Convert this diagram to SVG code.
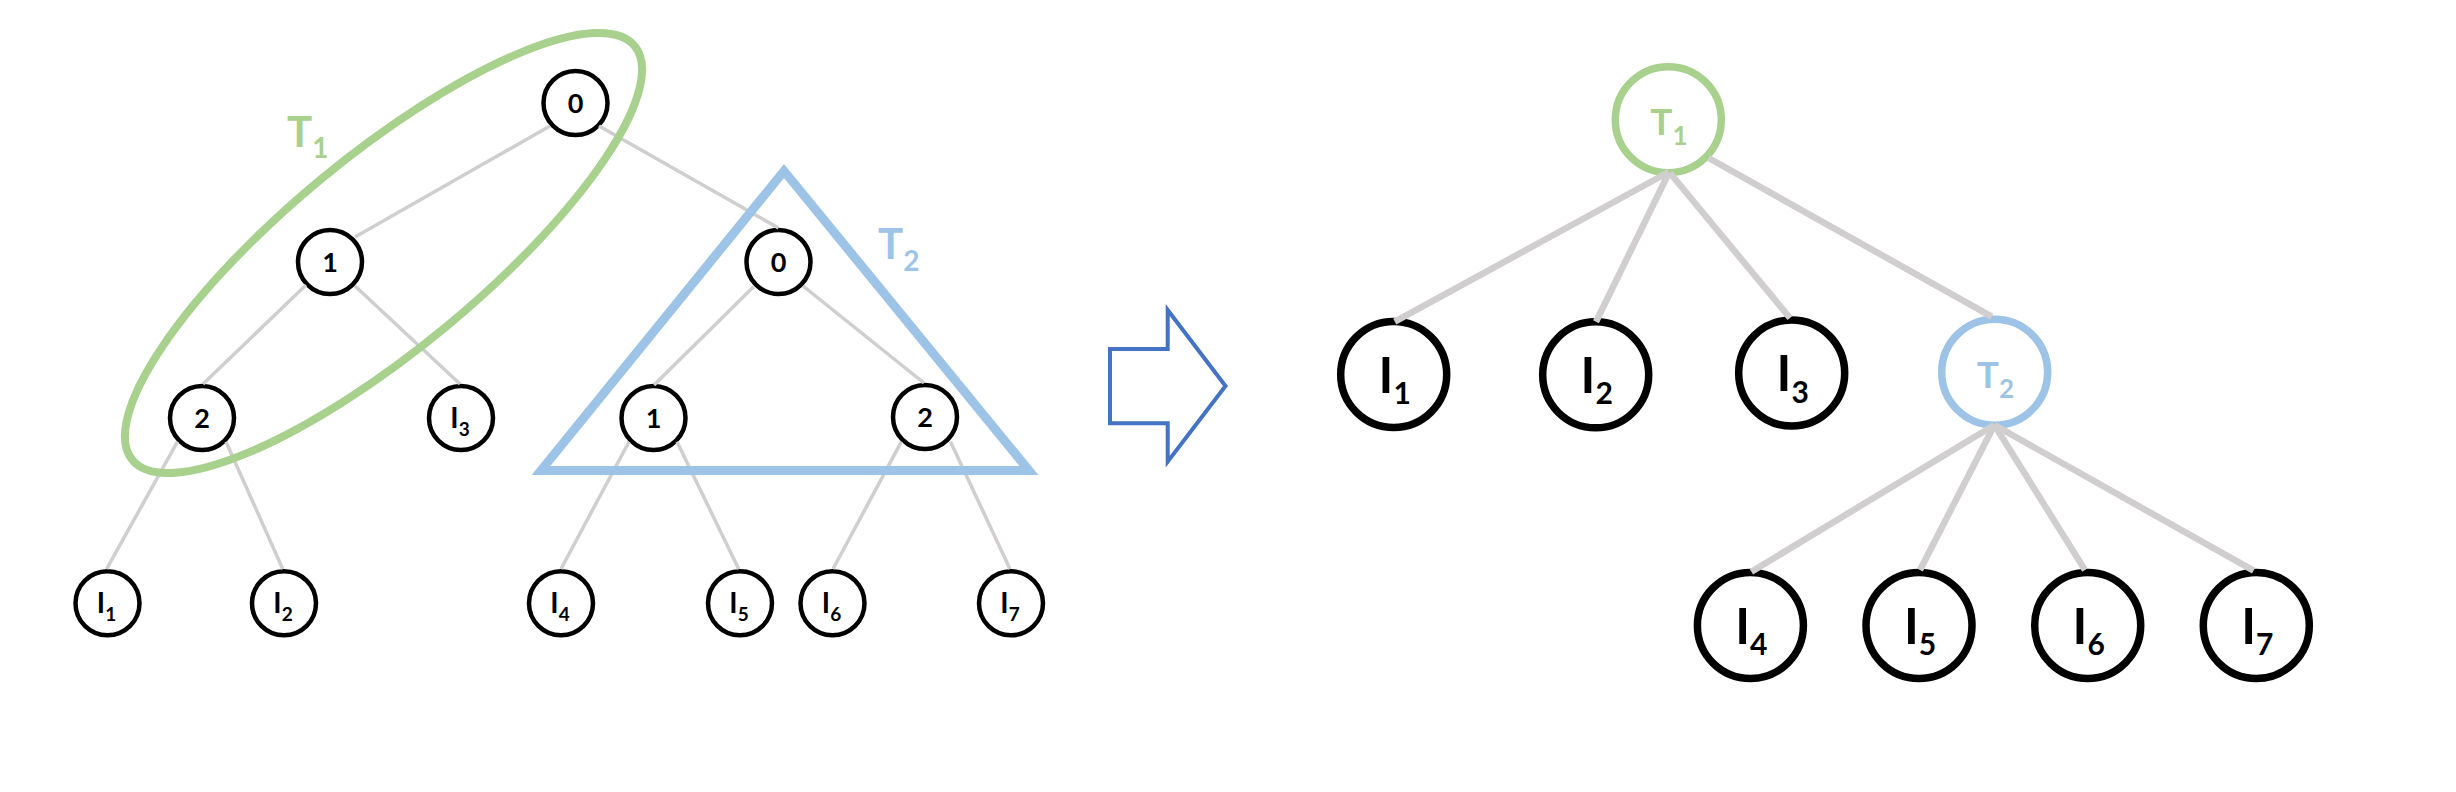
<svg xmlns="http://www.w3.org/2000/svg" width="2456" height="792" viewBox="0 0 2456 792">
<style>
.sn{fill:#fff;stroke:#000;stroke-width:4.5}
.bn{fill:#fff;stroke:#000;stroke-width:7.5}
.gn{fill:#fff;stroke:#A9D18E;stroke-width:7.5}
.un{fill:#fff;stroke:#9DC3E6;stroke-width:7.5}
.t{font-family:Lato,"Open Sans","Liberation Sans",sans-serif;font-weight:bold}
.d{font-size:27px;text-anchor:middle;fill:#000}
.li{font-size:28px;text-anchor:middle;fill:#000}
.bi{font-size:50px;text-anchor:middle;fill:#000}
.e1{stroke:#D0CECE;stroke-width:3.5;fill:none}
.e2{stroke:#D0CECE;stroke-width:6.5;fill:none}
</style>
<rect width="2456" height="792" fill="#fff"/>

<g id="left-nodes">
  <g id="L-n0"><circle class="sn" cx="575.5" cy="103" r="32"/><text class="t d" x="575.5" y="113">0</text></g>
  <g id="L-n1"><circle class="sn" cx="330" cy="262" r="32"/><text class="t d" x="330" y="272">1</text></g>
  <g id="L-n2"><circle class="sn" cx="202" cy="418" r="32"/><text class="t d" x="202" y="428">2</text></g>
  <g id="L-I3"><circle class="sn" cx="461" cy="418" r="32"/><text class="t li" x="460" y="428">I<tspan font-size="19" dy="7.7">3</tspan></text></g>
  <g id="L-T2n0"><circle class="sn" cx="778.5" cy="262" r="32"/><text class="t d" x="778.5" y="272">0</text></g>
  <g id="L-T2n1"><circle class="sn" cx="653.5" cy="418" r="32"/><text class="t d" x="653.5" y="428">1</text></g>
  <g id="L-T2n2"><circle class="sn" cx="925" cy="417" r="32"/><text class="t d" x="925" y="427">2</text></g>
  <g id="L-I1"><circle class="sn" cx="107.5" cy="603.3" r="32"/><text class="t li" x="106.5" y="613.3">I<tspan font-size="19" dy="7.7">1</tspan></text></g>
  <g id="L-I2"><circle class="sn" cx="284" cy="603.3" r="32"/><text class="t li" x="283" y="613.3">I<tspan font-size="19" dy="7.7">2</tspan></text></g>
  <g id="L-I4"><circle class="sn" cx="561" cy="603.3" r="32"/><text class="t li" x="560" y="613.3">I<tspan font-size="19" dy="7.7">4</tspan></text></g>
  <g id="L-I5"><circle class="sn" cx="740" cy="603.3" r="32"/><text class="t li" x="739" y="613.3">I<tspan font-size="19" dy="7.7">5</tspan></text></g>
  <g id="L-I6"><circle class="sn" cx="832.5" cy="603.3" r="32"/><text class="t li" x="831.5" y="613.3">I<tspan font-size="19" dy="7.7">6</tspan></text></g>
  <g id="L-I7"><circle class="sn" cx="1011" cy="603.3" r="32"/><text class="t li" x="1010" y="613.3">I<tspan font-size="19" dy="7.7">7</tspan></text></g>
</g>

<g id="right-nodes">
  <g id="R-T1"><circle class="gn" cx="1668.3" cy="119.7" r="53"/><text class="t" x="1669" y="135" font-size="37" text-anchor="middle" fill="#A9D18E">T<tspan font-size="26" dy="10">1</tspan></text></g>
  <g id="R-I1"><circle class="bn" cx="1393.7" cy="374.5" r="53"/><text class="t bi" x="1394.7" y="392.5">I<tspan font-size="30" dy="11.5">1</tspan></text></g>
  <g id="R-I2"><circle class="bn" cx="1595.7" cy="374.8" r="53"/><text class="t bi" x="1596.7" y="392.8">I<tspan font-size="30" dy="11.5">2</tspan></text></g>
  <g id="R-I3"><circle class="bn" cx="1791.7" cy="373" r="53"/><text class="t bi" x="1792.7" y="391">I<tspan font-size="30" dy="11.5">3</tspan></text></g>
  <g id="R-T2"><circle class="un" cx="1994.7" cy="372.2" r="53"/><text class="t" x="1995.4" y="387.5" font-size="37" text-anchor="middle" fill="#9DC3E6">T<tspan font-size="26" dy="10">2</tspan></text></g>
  <g id="R-I4"><circle class="bn" cx="1750.4" cy="625.5" r="53"/><text class="t bi" x="1751.4" y="643.5">I<tspan font-size="30" dy="11.5">4</tspan></text></g>
  <g id="R-I5"><circle class="bn" cx="1919" cy="625.5" r="53"/><text class="t bi" x="1920" y="643.5">I<tspan font-size="30" dy="11.5">5</tspan></text></g>
  <g id="R-I6"><circle class="bn" cx="2087.7" cy="625.5" r="53"/><text class="t bi" x="2088.7" y="643.5">I<tspan font-size="30" dy="11.5">6</tspan></text></g>
  <g id="R-I7"><circle class="bn" cx="2256.3" cy="625.5" r="53"/><text class="t bi" x="2257.3" y="643.5">I<tspan font-size="30" dy="11.5">7</tspan></text></g>
</g>

<g id="connectors">
  <line class="e1" x1="550" y1="126" x2="355" y2="237"/>
  <line class="e1" x1="599" y1="126" x2="778.5" y2="228"/>
  <line class="e1" x1="306" y1="285" x2="203" y2="384"/>
  <line class="e1" x1="355" y1="286" x2="460" y2="384"/>
  <line class="e1" x1="177.5" y1="441.7" x2="106.6" y2="569"/>
  <line class="e1" x1="226" y1="441.7" x2="282.7" y2="569"/>
  <line class="e1" x1="753.6" y1="286.7" x2="654" y2="385"/>
  <line class="e1" x1="803" y1="286" x2="924" y2="383"/>
  <line class="e1" x1="629" y1="441.7" x2="561" y2="569"/>
  <line class="e1" x1="677" y1="441.7" x2="738.7" y2="569"/>
  <line class="e1" x1="901.4" y1="441.7" x2="833" y2="569"/>
  <line class="e1" x1="950.5" y1="441.7" x2="1010" y2="569"/>

  <line class="e2" x1="1668.8" y1="172" x2="1394.8" y2="321.7"/>
  <line class="e2" x1="1668.8" y1="173" x2="1596" y2="321.7"/>
  <line class="e2" x1="1670" y1="173" x2="1790" y2="318"/>
  <line class="e2" x1="1708.6" y1="158" x2="1991.7" y2="316.7"/>
  <line class="e2" x1="1994.4" y1="425" x2="1751.4" y2="571.7"/>
  <line class="e2" x1="1994.4" y1="425" x2="1920" y2="570"/>
  <line class="e2" x1="1994.4" y1="425" x2="2085" y2="570"/>
  <line class="e2" x1="1994.4" y1="425" x2="2253.6" y2="570.7"/>
</g>

<g id="subtree-T1">
  <ellipse cx="383.5" cy="253" rx="325.5" ry="96.7" transform="rotate(-39.5 383.5 253)" fill="none" stroke="#A9D18E" stroke-width="8"/>
  <text class="t" x="287" y="147" font-size="42" fill="#A9D18E">T<tspan font-size="28" dy="11">1</tspan></text>
</g>

<g id="subtree-T2">
  <polygon points="784,171 1029,470.5 541,470.5" fill="none" stroke="#9DC3E6" stroke-width="9" stroke-miterlimit="10"/>
  <text class="t" x="878" y="259" font-size="42" fill="#9DC3E6">T<tspan font-size="28" dy="11.5">2</tspan></text>
</g>

<g id="transform-arrow">
  <polygon points="1110,349 1167.7,349 1167.7,310 1225.5,386 1167.7,461.7 1167.7,423.3 1110,423.3" fill="none" stroke="#4472C4" stroke-width="4"/>
</g>
</svg>
